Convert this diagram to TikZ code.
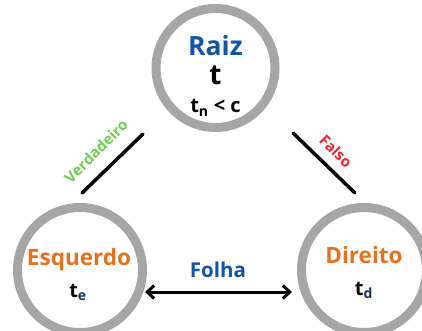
\documentclass[tikz,border=0pt]{standalone}
\usepackage{fontspec}
\setmainfont{Open Sans}[BoldFont={* Bold}]
\usetikzlibrary{arrows.meta}
\definecolor{ringgray}{RGB}{166,166,166}
\definecolor{rootblue}{RGB}{17,85,170}
\definecolor{leaforange}{RGB}{232,113,30}
\definecolor{truegreen}{RGB}{110,208,80}
\definecolor{falsered}{RGB}{255,32,44}
\definecolor{subnavy}{RGB}{30,45,95}
\tikzset{
  ring/.style={circle, draw=ringgray, line width=9pt, inner sep=0pt},
  lbl/.style={font=\bfseries, inner sep=0pt, anchor=base},
  edge/.style={line width=3.5pt, line cap=round},
}
\begin{document}
\begin{tikzpicture}[x=1pt, y=-1pt]
  \useasboundingbox (0,0) rectangle (422,331);
  % the three tree nodes
  \node[ring, minimum size=119pt] (root) at (215.5,68) {};
  \node[ring, minimum size=125pt] (left) at (80,270) {};
  \node[ring, minimum size=125pt] (right) at (364,270) {};
  % texts inside the nodes
  \node[lbl, text=rootblue, font=\bfseries\fontsize{26.5}{26.5}\selectfont] (rootname) at (215.5,56) {Raiz};
  \node[lbl, font=\bfseries\fontsize{28}{28}\selectfont] (rootvar) at (215.5,85) {t};
  \node[lbl, font=\bfseries\fontsize{20}{20}\selectfont] (rootcond) at (215.5,113) {t\textsubscript{n} < c};
  \node[lbl, text=leaforange, font=\bfseries\fontsize{22.5}{22.5}\selectfont] (leftname) at (79,265) {Esquerdo};
  \node[lbl, font=\bfseries\fontsize{20}{20}\selectfont] (leftvar) at (78,297) {t\textsubscript{\color{subnavy}e}};
  \node[lbl, text=leaforange, font=\bfseries\fontsize{22.5}{22.5}\selectfont] (rightname) at (364,263) {Direito};
  \node[lbl, font=\bfseries\fontsize{20}{20}\selectfont] (rightvar) at (364,295) {t\textsubscript{\color{subnavy}d}};
  % branch segments
  \coordinate (tl1) at (82,193);
  \coordinate (tl2) at (143,134);
  \coordinate (tr1) at (293,133);
  \coordinate (tr2) at (355,193);
  \draw[edge] (tl1) -- (tl2);
  \draw[edge] (tr1) -- (tr2);
  \node[lbl, anchor=center, text=truegreen, rotate=45, font=\bfseries\fontsize{15}{15}\selectfont] (yes) at (96,151) {Verdadeiro};
  \node[lbl, anchor=center, text=falsered, rotate=-45, font=\bfseries\fontsize{15}{15}\selectfont] (no) at (336,151) {Falso};
  % sibling link between the leaves
  \coordinate (al) at (145,292);
  \coordinate (ar) at (292,292);
  \draw[line width=3pt, {Straight Barb[length=7pt,width=13pt,line width=3pt]}-{Straight Barb[length=7pt,width=13pt,line width=3pt]}] (al) -- (ar);
  \node[lbl, text=rootblue, font=\bfseries\fontsize{20.5}{20.5}\selectfont] (leaf) at (218,277) {Folha};
\end{tikzpicture}
\end{document}
